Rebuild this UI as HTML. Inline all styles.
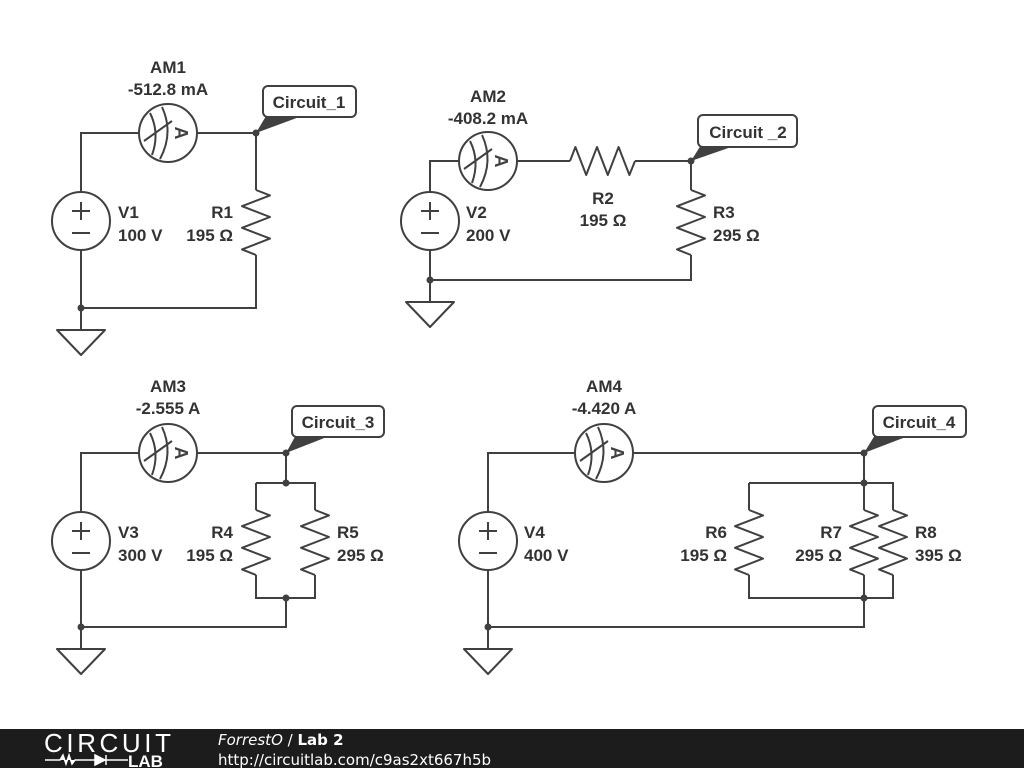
<!DOCTYPE html>
<html><head><meta charset="utf-8"><style>
body{margin:0;width:1024px;height:768px;background:#fff;overflow:hidden;font-family:"Liberation Sans",sans-serif}
svg{position:absolute;left:0;top:0}
.t{font:bold 17px "Liberation Sans",sans-serif;fill:#333}
</style></head><body>
<svg width="1024" height="768" viewBox="0 0 1024 768">
<defs>
<g id="am">
<circle r="29" fill="#fff" stroke="#404040" stroke-width="2"/>
<path d="M-18,-20 Q-8,0 -16,22 M-6,-26 Q6,0 -8,26 M-24,8 L4,-12" fill="none" stroke="#404040" stroke-width="2"/>
<text x="0" y="0" transform="translate(13,0) rotate(90)" text-anchor="middle" dy="6" style="font:bold 18px 'Liberation Sans',sans-serif;fill:#404040">A</text>
</g>
<g id="vs">
<circle r="29" fill="#fff" stroke="#404040" stroke-width="2"/>
<path d="M-9,-10 H9 M0,-19 V-1 M-9,12 H9" stroke="#404040" stroke-width="2"/>
</g>
<path id="rv" d="M0,0 L14,5.4 L-14,16.2 L14,27 L-14,37.8 L14,48.6 L-14,59.4 L0,65" fill="none" stroke="#404040" stroke-width="2" stroke-linejoin="round"/>
<path id="gnd" d="M0,0 V22 M-24,22 H24 L0,47 Z" fill="#fff" stroke="#404040" stroke-width="2" stroke-linejoin="round"/>
</defs>
<g fill="none" stroke="#404040" stroke-width="2">
<path d="M81,192 V133 H256 V190 M256,255 V308 H81 V250"/>
<path d="M430,192 V161 H570 M635,161 H691 V190 M691,255 V280 H430 V250"/>
<path d="M81,512 V453 H286 V483 M256,483 H315 V510 M256,483 V510 M256,575 V598 H315 V575 M286,598 V627 H81 V570"/>
<path d="M488,512 V453 H864 V483 M749,483 H893 V510 M749,483 V510 M864,483 V510 M749,575 V598 H893 V575 M864,575 V598 M864,598 V627 H488 V570"/>
</g>
<use href="#am" x="168" y="133"/><use href="#vs" x="81" y="221"/><use href="#rv" x="256" y="190"/><use href="#gnd" x="81" y="308"/>
<use href="#am" x="488" y="161"/><use href="#vs" x="430" y="221"/><use href="#rv" transform="translate(570,161) rotate(-90)"/><use href="#rv" x="691" y="190"/><use href="#gnd" x="430" y="280"/>
<use href="#am" x="168" y="453"/><use href="#vs" x="81" y="541"/><use href="#rv" x="256" y="510"/><use href="#rv" x="315" y="510"/><use href="#gnd" x="81" y="627"/>
<use href="#am" x="604" y="453"/><use href="#vs" x="488" y="541"/><use href="#rv" x="749" y="510"/><use href="#rv" x="864" y="510"/><use href="#rv" x="893" y="510"/><use href="#gnd" x="488" y="627"/>
<g fill="#404040">
<circle cx="256" cy="133" r="3.5"/><circle cx="81" cy="308" r="3.5"/>
<circle cx="691" cy="161" r="3.5"/><circle cx="430" cy="280" r="3.5"/>
<circle cx="286" cy="453" r="3.5"/><circle cx="286" cy="483" r="3.5"/><circle cx="286" cy="598" r="3.5"/><circle cx="81" cy="627" r="3.5"/>
<circle cx="864" cy="453" r="3.5"/><circle cx="864" cy="483" r="3.5"/><circle cx="864" cy="598" r="3.5"/><circle cx="488" cy="627" r="3.5"/>
<path d="M256,133 L266,116 L302,116 Z"/>
<path d="M691,161 L701,145 L737,145 Z"/>
<path d="M286,453 L296,435 L332,435 Z"/>
<path d="M864,453 L875,435 L911,435 Z"/>
</g>
<g fill="#fff" stroke="#404040" stroke-width="2">
<rect x="263" y="86" width="93" height="31" rx="5"/>
<rect x="698" y="115" width="99" height="32" rx="5"/>
<rect x="292" y="406" width="92" height="31" rx="5"/>
<rect x="873" y="406" width="93" height="31" rx="5"/>
</g>
<g class="t">
<text x="309" y="108" text-anchor="middle">Circuit_1</text>
<text x="748" y="138" text-anchor="middle">Circuit _2</text>
<text x="338" y="428" text-anchor="middle">Circuit_3</text>
<text x="919" y="428" text-anchor="middle">Circuit_4</text>
<text x="168" y="73" text-anchor="middle">AM1</text><text x="168" y="95" text-anchor="middle">-512.8 mA</text>
<text x="488" y="102" text-anchor="middle">AM2</text><text x="488" y="124" text-anchor="middle">-408.2 mA</text>
<text x="168" y="392" text-anchor="middle">AM3</text><text x="168" y="414" text-anchor="middle">-2.555 A</text>
<text x="604" y="392" text-anchor="middle">AM4</text><text x="604" y="414" text-anchor="middle">-4.420 A</text>
<text x="118" y="218">V1</text><text x="118" y="241">100 V</text>
<text x="466" y="218">V2</text><text x="466" y="241">200 V</text>
<text x="118" y="538">V3</text><text x="118" y="561">300 V</text>
<text x="524" y="538">V4</text><text x="524" y="561">400 V</text>
<text x="233" y="218" text-anchor="end">R1</text><text x="233" y="241" text-anchor="end">195 Ω</text>
<text x="603" y="204" text-anchor="middle">R2</text><text x="603" y="226" text-anchor="middle">195 Ω</text>
<text x="713" y="218">R3</text><text x="713" y="241">295 Ω</text>
<text x="233" y="538" text-anchor="end">R4</text><text x="233" y="561" text-anchor="end">195 Ω</text>
<text x="337" y="538">R5</text><text x="337" y="561">295 Ω</text>
<text x="727" y="538" text-anchor="end">R6</text><text x="727" y="561" text-anchor="end">195 Ω</text>
<text x="842" y="538" text-anchor="end">R7</text><text x="842" y="561" text-anchor="end">295 Ω</text>
<text x="915" y="538">R8</text><text x="915" y="561">395 Ω</text>
</g>
<rect x="0" y="729" width="1024" height="39" fill="#1c1c1c"/>
<text x="44" y="752" style="font:26px 'Liberation Sans',sans-serif;fill:#fff;letter-spacing:1px" textLength="128">CIRCUIT</text>
<path d="M45,760 H60 L63,755 L66,764 L69,755 L72,764 L75,760 H95 M95,755 V765 L105,760 Z M106,755 V765 M106,760 H128" stroke="#fff" stroke-width="1.5" fill="#fff"/>
<text x="128" y="767" style="font:bold 17px 'Liberation Sans',sans-serif;fill:#fff">LAB</text>
<text x="218" y="745" style="font:15px 'DejaVu Sans',sans-serif;fill:#fff"><tspan font-style="italic">ForrestO</tspan> / <tspan font-weight="bold">Lab 2</tspan></text>
<text x="218" y="765" style="font:15px 'DejaVu Sans',sans-serif;fill:#fff">http://circuitlab.com/c9as2xt667h5b</text>
</svg>
</body></html>
